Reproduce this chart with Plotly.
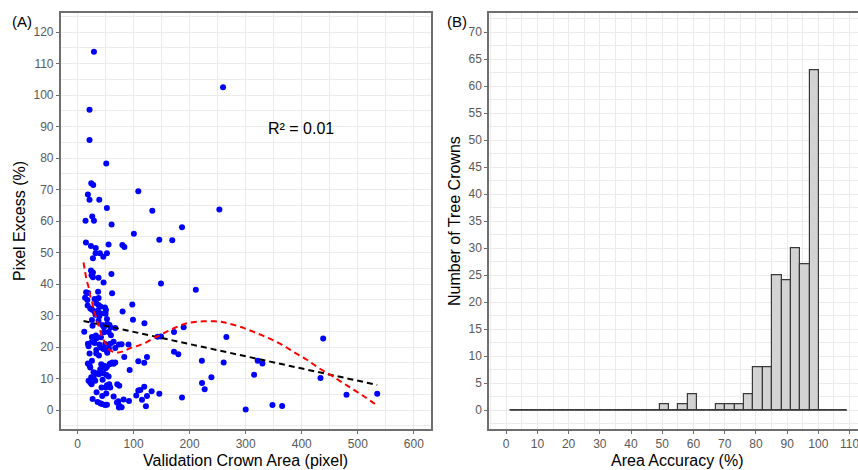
import plotly.graph_objects as go

# ---------------- Panel A data ----------------
area_px = [
    29.3, 21.4, 21.4, 51.3, 24.5, 28.0, 18.5, 21.4, 38.8, 108.4, 52.4, 133.4, 259.6, 253.0,
    14.3, 29.3, 26.3, 60.8, 100.5, 186.4, 145.9, 169.0, 15.0, 23.9, 32.5, 55.4, 80.0, 83.6,
    32.2, 40.0, 52.5, 46.0, 27.5,
    24.0, 27.5, 25.0, 27.5, 60.5, 37.5, 46.5, 148.9, 211.0, 15.3, 19.0, 36.7, 61.7,
    13.5, 17.6, 30.4, 37.6, 18.0, 33.6, 37.5, 41.0, 22.7, 48.9, 97.7, 80.4, 30.4, 36.4,
    41.8, 50.7, 50.0, 26.0, 32.2,
    25.7, 37.5, 38.8, 52.5, 53.0, 98.9, 26.8, 44.1, 47.1, 57.1, 58.9, 67.3, 119.4, 12.0,
    25.7, 32.8, 33.9, 55.4, 59.6, 41.8, 47.1, 172.1, 142.9, 148.9, 265.5, 438.2, 189.3,
    18.5, 19.7, 25.7, 38.8, 41.1, 49.5, 46.4, 56.0, 64.3, 73.9, 78.6, 91.0, 30.4, 58.4,
    33.4, 21.5, 33.4, 52.5, 53.1, 38.2, 83.4, 172.1, 179.8, 67.3,
    108.4, 119.0, 123.9, 93.0, 18.5, 21.5, 42.3, 47.1, 50.1, 62.0, 67.3, 58.4, 52.5,
    221.8, 260.7, 321.4, 329.8,
    33.4, 38.2, 45.9, 51.3, 55.4, 28.7, 19.7, 22.7, 25.1, 44.7, 52.5, 58.4, 50.1, 56.6,
    70.9, 74.5, 42.9, 315.0, 222.1, 226.8, 238.8, 433.4, 119.0, 112.0, 132.2, 108.4,
    34.0, 51.3, 44.1, 64.4, 26.9, 35.8, 40.6, 43.5, 52.5, 48.9, 70.3, 74.5, 78.7, 73.9,
    82.2, 72.7, 91.8, 104.8, 123.9, 115.0, 145.9, 186.4, 122.0, 300.0, 347.7, 365.0,
    479.8, 534.6,
    25.7, 22.7, 28.6, 24.5, 31.6, 40.5, 57.1, 64.3,
]
excess_pct = [
    113.8, 95.4, 85.8, 78.3, 72.0, 71.5, 68.5, 66.8, 66.8, 69.5, 64.2, 63.3, 102.5, 63.7,
    60.1, 60.1, 61.5, 58.9, 56.0, 58.1, 54.1, 53.9, 53.2, 52.1, 51.5, 52.6, 52.4, 51.8,
    49.8, 49.8, 49.8, 48.7, 48.2,
    44.3, 43.7, 42.8, 42.2, 43.2, 42.0, 40.5, 40.2, 38.2, 37.4, 37.2, 37.6, 37.1,
    35.7, 35.0, 35.3, 35.6, 33.2, 33.9, 33.4, 32.9, 32.3, 32.6, 33.5, 31.3, 31.2, 31.6,
    30.7, 31.8, 30.6, 31.9, 30.3,
    28.6, 28.4, 29.8, 28.9, 27.4, 28.7, 26.8, 27.0, 26.3, 27.0, 26.2, 26.1, 27.6, 24.9,
    23.2, 23.7, 22.8, 24.8, 23.8, 23.1, 24.7, 24.8, 23.3, 23.4, 23.2, 22.7, 26.3,
    21.1, 20.3, 21.7, 20.8, 19.9, 21.0, 19.4, 19.6, 21.7, 20.8, 20.9, 20.8, 21.3, 21.1,
    19.1, 18.0, 18.0, 18.8, 18.2, 17.3, 16.9, 18.5, 17.7, 19.7,
    15.5, 15.0, 16.9, 12.7, 14.8, 14.2, 14.6, 14.1, 13.3, 15.1, 15.1, 14.8, 13.8,
    15.7, 15.1, 15.7, 14.8,
    11.7, 11.4, 11.7, 11.2, 10.7, 10.4, 9.3, 8.8, 8.2, 9.6, 7.9, 7.2, 7.2, 8.2,
    8.2, 7.7, 7.2, 11.2, 8.6, 6.6, 10.4, 10.2, 7.4, 6.4, 6.0, 6.2,
    5.7, 5.3, 4.5, 4.3, 3.5, 2.6, 2.2, 1.9, 1.7, 1.6, 2.4, 1.4, 0.9, 0.8,
    3.4, 2.8, 2.9, 4.6, 4.5, 3.3, 5.2, 4.0, 1.2, 0.2, 1.6, 1.3,
    4.9, 5.2,
    15.7, 13.5, 12.0, 10.4, 9.3, 13.0, 14.6, 14.7,
]

# linear fit (black dashed)
lm_x = [10.8, 534.6]
lm_y = [28.3, 8.0]

# loess curve (red dashed)
loess_x = [10.7, 13.0, 16.0, 20.9, 22.7, 26.8, 28.6, 33.4, 35.7, 40.5, 43.6, 50.7, 57.1,
           64.0, 73.0, 83.0, 97.0, 107.0, 120.0, 133.0, 148.0, 160.0, 172.0, 185.0, 196.0,
           210.0, 225.0, 245.0, 260.0, 272.0, 296.0, 320.0, 344.0, 365.0, 389.0, 410.0,
           430.0, 451.0, 472.0, 493.0, 514.0, 534.0]
loess_y = [46.9, 44.5, 41.5, 38.2, 36.3, 33.7, 31.8, 29.4, 27.9, 25.2, 23.3, 21.0, 19.1,
           18.5, 18.3, 18.8, 19.9, 20.4, 21.3, 22.6, 23.9, 25.0, 26.0, 27.0, 27.6,
           28.0, 28.2, 28.2, 27.9, 27.4, 26.1, 24.4, 22.6, 20.7, 18.1, 15.9,
           13.4, 11.2, 8.8, 6.4, 4.0, 1.5]

r2_label = "R² = 0.01"

# ---------------- Panel B data (histogram) ----------------
bin_width = 3.0
bin_centers = [2.7, 5.7, 8.7, 11.7, 14.7, 17.7, 20.7, 23.7, 26.7, 29.7, 32.7, 35.7,
               38.7, 41.7, 44.7, 47.7, 50.7, 53.7, 56.7, 59.7, 62.7, 65.7, 68.7, 71.7,
               74.7, 77.7, 80.7, 83.7, 86.7, 89.7, 92.7, 95.7, 98.7, 101.7, 104.7, 107.7]
bin_counts = [0, 0, 0, 0, 0, 0, 0, 0, 0, 0, 0, 0,
              0, 0, 0, 0, 1, 0, 1, 3, 0, 0, 1, 1,
              1, 3, 8, 8, 25, 24, 30, 27, 63, 0, 0, 0]

xA_ticks = [0, 100, 200, 300, 400, 500, 600]
yA_ticks = [0, 10, 20, 30, 40, 50, 60, 70, 80, 90, 100, 110, 120]
xB_ticks = [0, 10, 20, 30, 40, 50, 60, 70, 80, 90, 100, 110]
yB_ticks = [0, 5, 10, 15, 20, 25, 30, 35, 40, 45, 50, 55, 60, 65, 70]

# ---------------- figure ----------------
W, H = 858, 470
FONT = "Arial, Liberation Sans, sans-serif"
GRID = "#EBEBEB"
BORDER = "#6E6E6E"
TICKC = "#595959"

fig = go.Figure()

fig.add_trace(go.Scatter(x=area_px, y=excess_pct, mode="markers",
                         marker=dict(color="#0000FF", size=6, line=dict(width=0)),
                         xaxis="x", yaxis="y", showlegend=False))
fig.add_trace(go.Scatter(x=lm_x, y=lm_y, mode="lines",
                         line=dict(color="black", width=2, dash="6px,4px"),
                         xaxis="x", yaxis="y", showlegend=False))
fig.add_trace(go.Scatter(x=loess_x, y=loess_y, mode="lines", line_shape="spline",
                         line=dict(color="#FF0000", width=2, dash="6px,4px"),
                         xaxis="x", yaxis="y", showlegend=False))

# histogram
fig.add_trace(go.Bar(x=bin_centers, y=bin_counts, width=bin_width,
                     marker=dict(color="#D3D3D3", line=dict(color="#3A3A3A", width=1.2)),
                     xaxis="x2", yaxis="y2", showlegend=False))
fig.add_trace(go.Scatter(x=[bin_centers[0] - bin_width / 2, bin_centers[-1] + bin_width / 2],
                         y=[0, 0], mode="lines", line=dict(color="#3A3A3A", width=1.2),
                         xaxis="x2", yaxis="y2", showlegend=False))

ydom = [(H - 429) / H, (H - 13.3) / H]
tickfont = dict(family=FONT, size=12, color=TICKC)


def ax(domain, rng, tickvals, minor_dtick, anchor, mirror=True):
    return dict(domain=domain, range=rng, tickvals=tickvals, ticks="outside", ticklen=3,
                tickcolor=BORDER, tickwidth=1, tickfont=tickfont,
                showgrid=True, gridcolor=GRID, gridwidth=1, zeroline=False,
                showline=True, linecolor=BORDER, linewidth=1.5, mirror=mirror,
                minor=dict(dtick=minor_dtick, tick0=0, showgrid=True, gridcolor=GRID,
                           gridwidth=0.7, ticks=""),
                anchor=anchor, automargin=False, fixedrange=True,
                ticklabeloverflow="allow")


fig.update_layout(
    width=W, height=H,
    margin=dict(l=0, r=0, t=0, b=0),
    paper_bgcolor="white", plot_bgcolor="white",
    font=dict(family=FONT, color="black"),
    xaxis=ax([60.7 / W, 430.7 / W], [-30, 630], xA_ticks, 50, "y"),
    yaxis=ax(ydom, [-6, 126], yA_ticks, 5, "x"),
    xaxis2=ax([489 / W, 1.0], [-5.5, 112.7], xB_ticks, 5, "y2"),
    yaxis2=ax(ydom, [-3.5, 73.5], yB_ticks, 2.5, "x2", mirror=False),
    bargap=0,
)

annos = [
    dict(text="(A)", x=22 / W, y=(H - 22) / H, font=dict(size=15)),
    dict(text="(B)", x=456.5 / W, y=(H - 22) / H, font=dict(size=15)),
    dict(text="Pixel Excess (%)", x=20 / W, y=(H - 221) / H, textangle=-90, font=dict(size=16)),
    dict(text="Validation Crown Area (pixel)", x=245.7 / W, y=(H - 460) / H, font=dict(size=16)),
    dict(text="Number of Tree Crowns", x=455 / W, y=(H - 221) / H, textangle=-90, font=dict(size=16)),
    dict(text="Area Accuracy (%)", x=677 / W, y=(H - 460) / H, font=dict(size=16)),
]
for a in annos:
    fig.add_annotation(xref="paper", yref="paper", showarrow=False,
                       xanchor="center", yanchor="middle",
                       font=dict(family=FONT, color="black", size=a["font"]["size"]),
                       **{k: v for k, v in a.items() if k != "font"})

fig.add_annotation(x=398, y=89.4, xref="x", yref="y", text=r2_label, showarrow=False,
                   font=dict(family=FONT, size=16, color="black"),
                   xanchor="center", yanchor="middle")

fig.write_html("out.html")
